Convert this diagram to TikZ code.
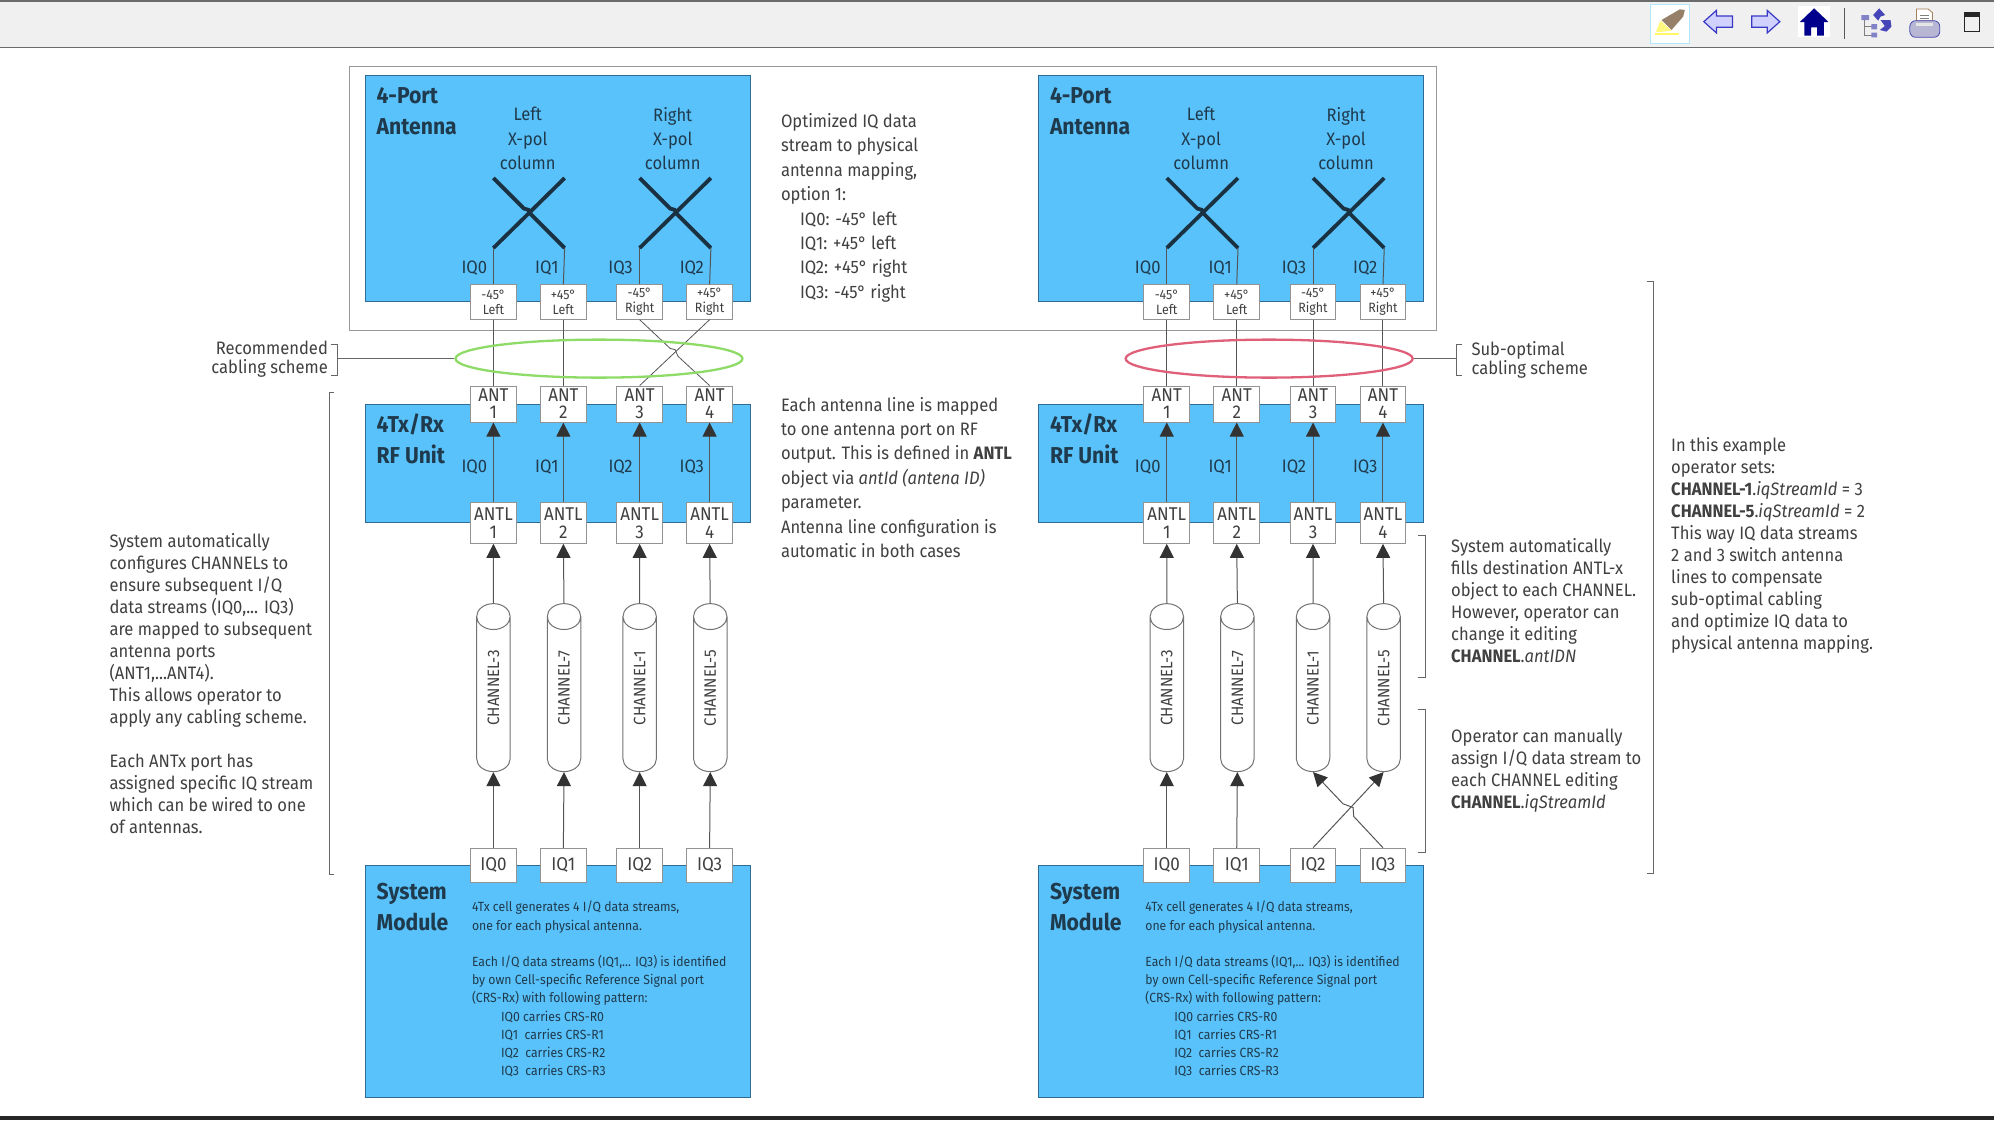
\documentclass[tikz,border=0pt]{standalone}
\usepackage{fontspec}
\setmainfont[FakeStretch=0.92]{Fira Sans}
\usetikzlibrary{arrows.meta,shapes.geometric}
\definecolor{blu}{HTML}{5AC2FB}
\definecolor{bluedge}{HTML}{2F6B94}
\definecolor{txt}{HTML}{404040}
\definecolor{dk}{HTML}{1F3A4C}
\definecolor{ln}{HTML}{555555}
\definecolor{goodc}{HTML}{8EDB68}
\definecolor{badc}{HTML}{E0607A}
\newcommand{\chlabel}[1]{\hspace*{12.7pt}#1}
\tikzset{
 unit/.style={draw=bluedge,line width=1pt,fill=blu},
 head/.style={font=\fontsize{23}{30.5}\selectfont\bfseries,text=dk,align=left,anchor=north west,inner sep=0pt},
 blue text/.style={font=\fontsize{18}{24.4}\selectfont,text=dk,align=center,inner sep=0pt},
 small text/.style={font=\fontsize{13.3}{18.2}\selectfont,text=dk,align=left,anchor=north west,inner sep=0pt},
 body/.style={font=\fontsize{18}{24.4}\selectfont,text=txt,align=left,anchor=north west,inner sep=0pt},
 bodyb/.style={font=\fontsize{18}{22}\selectfont,text=txt,align=left,anchor=north west,inner sep=0pt},
 bodyc/.style={font=\fontsize{18}{19}\selectfont,text=txt,align=left,anchor=north west,inner sep=0pt},
 port/.style={draw=gray!85,line width=1pt,fill=white,text=txt,align=center,inner sep=0pt,minimum width=45.8pt,minimum height=34.3pt},
 portsm/.style={port,font=\fontsize{13.5}{15}\selectfont},
 antp/.style={port,minimum height=36pt,font=\fontsize{18.5}{17}\selectfont},
 antl/.style={port,minimum height=40.6pt,font=\fontsize{18.5}{18.5}\selectfont},
 iqp/.style={port,font=\fontsize{18.5}{22}\selectfont},
 chan/.style={cylinder,rotate=90,draw=gray!90!black,line width=1pt,fill=white,text=txt,aspect=2.2,minimum height=168pt,minimum width=33.5pt,inner sep=0pt,font=\fontsize{16.5}{18}\selectfont},
 xpol/.style={line width=3.8pt,draw=dk!85!black},
 wire/.style={draw=ln,line width=1pt},
 arr/.style={wire,-{Triangle[length=14pt,width=14pt,color=black!80]}},
 brak/.style={draw=gray!80!black,line width=1pt},
 oval/.style={ellipse,draw,line width=2.3pt,fill=none,minimum width=287pt,minimum height=38pt,inner sep=0pt}
}
\newcommand{\panel}[2]{%
\begin{scope}[shift={(#2,0)},name prefix=#1-]
 \node[unit,minimum width=385pt,minimum height=226pt,inner sep=0pt] (ant) at (438.5,148) {};
 \node[unit,minimum width=385pt,minimum height=118pt,inner sep=0pt] (rf) at (438.5,364.5) {};
 \node[unit,minimum width=385pt,minimum height=232pt,inner sep=0pt] (sys) at (438.5,772) {};
 \node[head] (anthead) at (296,69) {4-Port\\Antenna};
 \node[head] (rfhead) at (296,325.5) {4Tx/Rx\\RF Unit};
 \node[head] (syshead) at (296,694.5) {System\\Module};
 \node[blue text] (lcol) at (415,109) {Left\\X-pol\\column};
 \node[blue text] (rcol) at (529,109) {Right\\X-pol\\column};
 \coordinate (x1) at (388,195); \coordinate (x2) at (444,195);
 \coordinate (x3) at (503,195); \coordinate (x4) at (559,195);
 \draw[xpol] (388,140) -- (412,164) -- (415.5,165) -- (417,168) -- (x2);
 \draw[xpol] (x1) -- (444,140);
 \draw[xpol] (503,140) -- (527,164) -- (530.5,165) -- (532,168) -- (x4);
 \draw[xpol] (x3) -- (559,140);
 \node[blue text] (ai0) at (373,211) {IQ0};
 \node[blue text] (ai1) at (430,211) {IQ1};
 \node[blue text] (ai3) at (488,211) {IQ3};
 \node[blue text] (ai2) at (544,211) {IQ2};
 \node[portsm] (p1) at (388,237.5) {-45°\\Left};
 \node[portsm] (p2) at (443,237.5) {+45°\\Left};
 \node[portsm] (p3) at (503,237.5) {-45°\\Right};
 \node[portsm] (p4) at (558,237.5) {+45°\\Right};
 \draw[wire] (x1) -- (p1.north);
 \draw[wire] (x2) -- (p2.north);
 \draw[wire] (x3) -- (p3.north);
 \draw[wire] (x4) -- (p4.north);
 \node[antp] (a1) at (388,317.75) {ANT\\1};
 \node[antp] (a2) at (443,317.75) {ANT\\2};
 \node[antp] (a3) at (503,317.75) {ANT\\3};
 \node[antp] (a4) at (558,317.75) {ANT\\4};
 \node[antl] (l1) at (388,411.3) {ANTL\\1};
 \node[antl] (l2) at (443,411.3) {ANTL\\2};
 \node[antl] (l3) at (503,411.3) {ANTL\\3};
 \node[antl] (l4) at (558,411.3) {ANTL\\4};
 \node[blue text] (ri0) at (373,367) {IQ0};
 \node[blue text] (ri1) at (430,367) {IQ1};
 \node[blue text] (ri2) at (488,367) {IQ2};
 \node[blue text] (ri3) at (544,367) {IQ3};
 \node[chan] (c1) at (388,546) {\chlabel{CHANNEL-3}};
 \node[chan] (c2) at (443.5,546) {\chlabel{CHANNEL-7}};
 \node[chan] (c3) at (503,546) {\chlabel{CHANNEL-1}};
 \node[chan] (c4) at (558.5,546) {\chlabel{CHANNEL-5}};
 \node[iqp] (q1) at (388,680.5) {IQ0};
 \node[iqp] (q2) at (443,680.5) {IQ1};
 \node[iqp] (q3) at (503,680.5) {IQ2};
 \node[iqp] (q4) at (558,680.5) {IQ3};
 \draw[arr] (l1.north) -- (a1.south);
 \draw[arr] (l2.north) -- (a2.south);
 \draw[arr] (l3.north) -- (a3.south);
 \draw[arr] (l4.north) -- (a4.south);
 \draw[arr] (c1.east) -- (l1.south);
 \draw[arr] (c2.east) -- (l2.south);
 \draw[arr] (c3.east) -- (l3.south);
 \draw[arr] (c4.east) -- (l4.south);
 \draw[arr] (q1.north) -- (c1.west);
 \draw[arr] (q2.north) -- (c2.west);
 \node[small text] (sysnote) at (371,708.5) {4Tx cell generates 4 I/Q data streams,\\one for each physical antenna.\\[18.2pt]Each I/Q data streams (IQ1,... IQ3) is identified\\by own Cell-specific Reference Signal port\\(CRS-Rx) with following pattern:\\\hspace*{29pt}IQ0 carries CRS-R0\\\hspace*{29pt}IQ1\ \ carries CRS-R1\\\hspace*{29pt}IQ2\ \ carries CRS-R2\\\hspace*{29pt}IQ3\ \ carries CRS-R3};
\end{scope}}
\begin{document}
\begin{tikzpicture}[x=1.2717pt,y=-1.2717pt]
\useasboundingbox (0pt,0pt) rectangle (1994pt,-1120pt);
\fill[white] (0pt,0pt) rectangle (1994pt,-1120pt);
% window chrome
\fill[gray!12] (0,0) rectangle (1568,37);
\fill[gray!85!black] (0,0) rectangle (1568,1.4);
\fill[gray!85!black] (0,36.6) rectangle (1568,38);
\fill[black!85] (0,877.6) rectangle (1568,881);
\begin{scope}[x=0.3333pt,y=-0.3333pt,shift={(4860,0)}]
 \draw[draw=blue!30!cyan!30,line width=1.2pt,fill=white] (92,14) rectangle (208,130);
 \fill[yellow!60] (105,100) rectangle (178,106);
 \fill[yellow!50] (122,62) -- (155,92) -- (120,96) -- (108,95) -- cycle;
 \fill[gray!65!brown] (125,60) -- (180,28) -- (195,30) -- (190,50) -- (155,90) -- cycle;
 \draw[draw=blue!55!gray,line width=1.2pt,fill=blue!18] (252,65) -- (290,31) -- (290,48) -- (338,48) -- (338,82) -- (290,82) -- (290,99) -- cycle;
 \draw[draw=blue!55!gray,line width=1.2pt,fill=blue!18] (480,65) -- (442,31) -- (442,48) -- (396,48) -- (396,82) -- (442,82) -- (442,99) -- cycle;
 \fill[white] (535,18) rectangle (630,112);
 \fill[blue!55!black] (540,66) -- (583,25) -- (626,66) -- (612,66) -- (612,107) -- (592,107) -- (592,82) -- (574,82) -- (574,107) -- (554,107) -- (554,66) -- cycle;
 \draw[draw=gray!70!black,line width=1.4pt] (674,25) -- (674,118);
 \draw[draw=gray,line width=.8pt] (735,55) -- (735,105) -- (765,105) (735,80) -- (765,80);
 \fill[gray!60!blue!70] (725,45) rectangle (748,60) (755,72) rectangle (772,88) (755,98) rectangle (772,112);
 \fill[blue!45!gray] (760,45) -- (778,25) -- (796,45) -- (782,50) -- (775,62) -- cycle;
 \fill[blue!45!gray] (782,60) -- (812,60) -- (815,80) -- (800,95) -- (780,90) -- (795,78) -- cycle;
 \draw[draw=gray!70!orange,fill=white,line width=.8pt] (890,62) -- (890,27) -- (925,27) -- (938,38) -- (938,62) -- cycle;
 \draw[draw=gray,line width=.8pt] (900,45) -- (928,45) (900,54) -- (928,54);
 \draw[draw=blue!40!gray,fill=blue!25!gray!45,line width=.8pt,rounded corners=6pt] (870,62) rectangle (960,112);
 \fill[white!80!gray] (890,70) rectangle (940,78);
 \draw[draw=black!85,line width=1.2pt] (1034,38) rectangle (1080,95);
 \fill[black!85] (1034,38) rectangle (1080,50);
\end{scope}
% outer antenna frame
\node[draw=gray!80,line width=1pt,minimum width=1087pt,minimum height=264.5pt,inner sep=0pt] (frame) at (702.5,156) {};
\panel{L}{0}
\panel{R}{529.5}
% left panel cabling (crossed) and crossing-free streams
\draw[wire] (L-p1.south) -- (L-a1.north);
\draw[wire] (L-p2.south) -- (L-a2.north);
\draw[wire,line width=.8pt] (L-p3.south) -- (527,274) -- (531,275) -- (533,280) -- (L-a4.north);
\draw[wire,line width=.8pt] (L-p4.south) -- (L-a3.north);
\draw[arr] (L-q3.north) -- (L-c3.west);
\draw[arr] (L-q4.north) -- (L-c4.west);
% right panel cabling
\draw[wire] (R-p1.south) -- (R-a1.north);
\draw[wire] (R-p2.south) -- (R-a2.north);
\draw[wire] (R-p3.south) -- (R-a3.north);
\draw[wire] (R-p4.south) -- (R-a4.north);
\draw[arr] (R-q3.north) -- (R-c4.west);
\draw[arr] (R-q4.north) -- (1064.5,642) -- (1064,635) -- (1056,632) -- (R-c3.west);
% ovals
\node[oval,draw=goodc] (goodoval) at (471,282) {};
\node[oval,draw=badc] (badoval) at (998,282) {};
% brackets
\coordinate (lb) at (265,282); \coordinate (rb) at (1145,282);
\draw[brak] (lb) -- (goodoval.west);
\draw[brak] (badoval.east) -- (rb);
\draw[brak] (260,271) -- (265,271) -- (265,295) -- (260,295);
\draw[brak] (1150,271) -- (1145,271) -- (1145,295) -- (1150,295);
\draw[brak] (263,309) -- (259,309) -- (259,688) -- (263,688);
\draw[brak] (1115,421) -- (1121,421) -- (1121,533) -- (1115,533);
\draw[brak] (1115,558) -- (1121,558) -- (1121,670) -- (1115,670);
\draw[brak] (1295,221) -- (1300,221) -- (1300,687) -- (1295,687);
% annotations
\node[bodyc,anchor=north east,align=right] (rec) at (258,268) {Recommended\\cabling scheme};
\node[bodyc] (sub) at (1157,268) {Sub-optimal\\cabling scheme};
\node[body] (opt) at (614,89) {Optimized IQ data\\stream to physical\\antenna mapping,\\option 1:\\\hspace*{19pt}IQ0: -45° left\\\hspace*{19pt}IQ1: +45° left\\\hspace*{19pt}IQ2: +45° right\\\hspace*{19pt}IQ3: -45° right};
\node[body] (each) at (614,312) {Each antenna line is mapped\\to one antenna port on RF\\output. This is defined in \textbf{ANTL}\\object via \textit{antId (antena ID)}\\parameter.\\Antenna line configuration is\\automatic in both cases};
\node[bodyb] (auto) at (86,419) {System automatically\\configures CHANNELs to\\ensure subsequent I/Q\\data streams (IQ0,... IQ3)\\are mapped to subsequent\\antenna ports\\(ANT1,...ANT4).\\This allows operator to\\apply any cabling scheme.\\[22pt]Each ANTx port has\\assigned specific IQ stream\\which can be wired to one\\of antennas.};
\node[bodyb] (fill) at (1141,423) {System automatically\\fills destination ANTL-x\\object to each CHANNEL.\\However, operator can\\change it editing\\\textbf{CHANNEL}.\textit{antIDN}};
\node[bodyb] (assign) at (1141,573) {Operator can manually\\assign I/Q data stream to\\each CHANNEL editing\\\textbf{CHANNEL}.\textit{iqStreamId}};
\node[bodyb] (example) at (1314,344) {In this example\\operator sets:\\\textbf{CHANNEL-1}.\textit{iqStreamId} = 3\\\textbf{CHANNEL-5}.\textit{iqStreamId} = 2\\This way IQ data streams\\2 and 3 switch antenna\\lines to compensate\\sub-optimal cabling\\and optimize IQ data to\\physical antenna mapping.};
\end{tikzpicture}
\end{document}
